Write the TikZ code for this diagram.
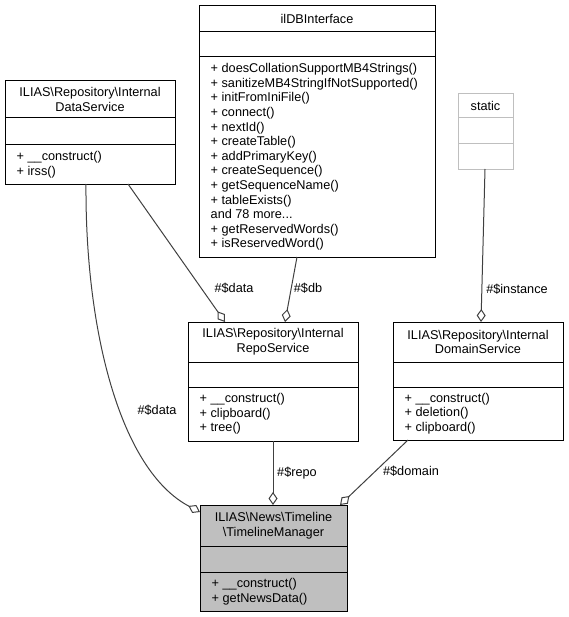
\documentclass[tikz,border=0pt]{standalone}
\usepackage{fontspec}
\setmainfont{Liberation Sans}
\usetikzlibrary{arrows.meta}
\newcommand{\bs}{\textbackslash}
\tikzset{
  box/.style={draw=black, line width=1bp, inner sep=0pt, anchor=north west, fill=white},
  sbox/.style={draw=black!25, line width=1bp, inner sep=0pt, anchor=north west, fill=white},
  sepl/.style={draw=black, line width=1bp},
  ssepl/.style={draw=black!25, line width=1bp},
  ttl/.style={inner sep=0pt, align=center, font=\fontsize{12.7bp}{14.6bp}\selectfont},
  mth/.style={inner sep=0pt, align=left, anchor=west, font=\fontsize{12.7bp}{14.6bp}\selectfont},
  lbl/.style={inner sep=0pt, font=\fontsize{12.7bp}{14.6bp}\selectfont},
  agg/.style={draw=black!75, line width=1bp, -{Diamond[open, length=13bp, width=9bp, line width=1bp]}}
}
\begin{document}
\begin{tikzpicture}[x=1bp, y=-1bp]
\useasboundingbox (0,0) rectangle (569,617);

% DataService
\node[box, minimum width=170bp, minimum height=104bp] (ds) at (5,80) {};
\draw[sepl] (5,118) -- (175,118);
\draw[sepl] (5,145) -- (175,145);
\node[ttl] (dst) at (90,99.5) {ILIAS\bs Repository\bs Internal\\DataService};
\node[mth] (dsm) at (16.5,164.5) {+ \_\_construct()\\+ irss()};

% ilDBInterface
\node[box, minimum width=236bp, minimum height=252bp] (db) at (199,5) {};
\draw[sepl] (199,32) -- (435,32);
\draw[sepl] (199,57) -- (435,57);
\node[ttl] (dbt) at (317,18.5) {ilDBInterface};
\node[mth] (dbm) at (210.5,157) {+ doesCollationSupportMB4Strings()\\+ sanitizeMB4StringIfNotSupported()\\+ initFromIniFile()\\+ connect()\\+ nextId()\\+ createTable()\\+ addPrimaryKey()\\+ createSequence()\\+ getSequenceName()\\+ tableExists()\\and 78 more...\\+ getReservedWords()\\+ isReservedWord()};

% static
\node[sbox, minimum width=55bp, minimum height=76bp] (st) at (458,93) {};
\draw[ssepl] (458,118) -- (513,118);
\draw[ssepl] (458,144) -- (513,144);
\node[ttl] (stt) at (485.5,105.5) {static};

% RepoService
\node[box, minimum width=170bp, minimum height=119bp] (rs) at (188,322) {};
\draw[sepl] (188,362) -- (358,362);
\draw[sepl] (188,387) -- (358,387);
\node[ttl] (rst) at (273,342) {ILIAS\bs Repository\bs Internal\\RepoService};
\node[mth] (rsm) at (199.5,414) {+ \_\_construct()\\+ clipboard()\\+ tree()};

% DomainService
\node[box, minimum width=170bp, minimum height=118bp] (dm) at (393,322) {};
\draw[sepl] (393,362) -- (563,362);
\draw[sepl] (393,387) -- (563,387);
\node[ttl] (dmt) at (478,342) {ILIAS\bs Repository\bs Internal\\DomainService};
\node[mth] (dmm) at (404.5,413.5) {+ \_\_construct()\\+ deletion()\\+ clipboard()};

% TimelineManager
\node[box, fill=black!25, minimum width=147bp, minimum height=106bp] (tm) at (200,505) {};
\draw[sepl] (200,546) -- (347,546);
\draw[sepl] (200,572) -- (347,572);
\node[ttl] (tmt) at (273.5,525.5) {ILIAS\bs News\bs Timeline\\\bs TimelineManager};
\node[mth] (tmm) at (211.5,591.5) {+ \_\_construct()\\+ getNewsData()};

% connector end points
\coordinate (a1) at (86,184);
\coordinate (a2) at (200,512);
\coordinate (b1) at (128,184);
\coordinate (b2) at (225,322);
\coordinate (c1) at (297,257);
\coordinate (c2) at (285,322);
\coordinate (d1) at (485,169);
\coordinate (d2) at (481,322);
\coordinate (e1) at (273,441);
\coordinate (e2) at (273,505);
\coordinate (f1) at (408,440);
\coordinate (f2) at (340,505);

\draw[agg] (a1) .. controls (85,330) and (120,470) .. (a2);
\draw[agg] (b1) -- (b2);
\draw[agg] (c1) -- (c2);
\draw[agg] (d1) -- (d2);
\draw[agg] (e1) -- (e2);
\draw[agg] (f1) -- (f2);

\node[lbl] (l1) at (157,410) {\#\$data};
\node[lbl] (l2) at (234,288) {\#\$data};
\node[lbl] (l3) at (308,288) {\#\$db};
\node[lbl] (l4) at (517,289) {\#\$instance};
\node[lbl] (l5) at (297,473) {\#\$repo};
\node[lbl] (l6) at (411,471) {\#\$domain};
\end{tikzpicture}
\end{document}
